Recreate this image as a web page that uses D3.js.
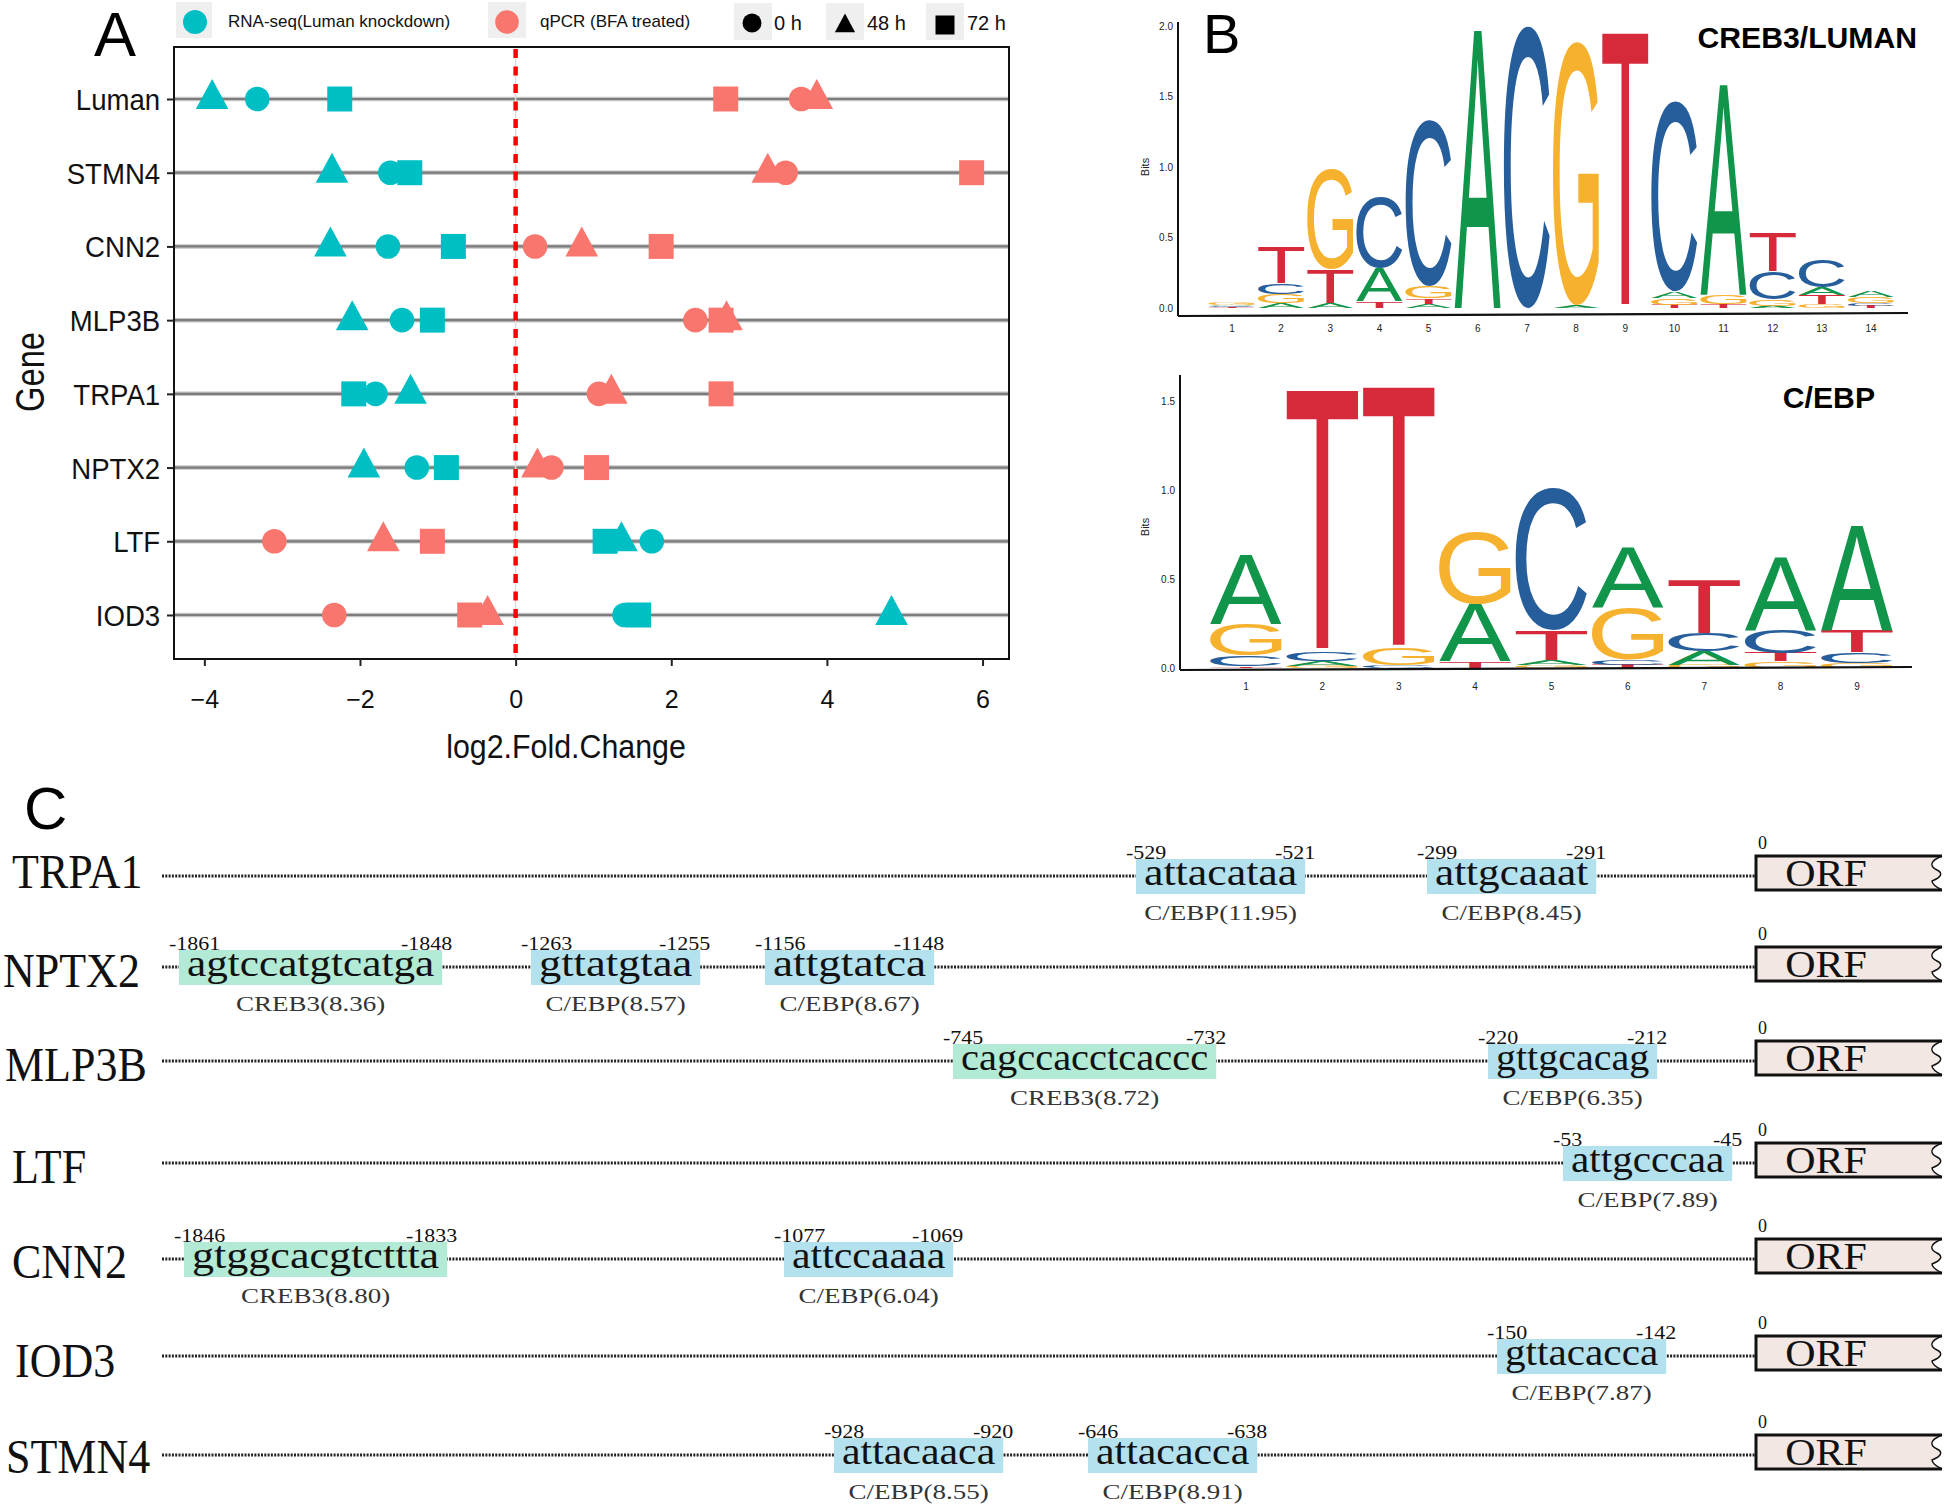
<!DOCTYPE html>
<html><head><meta charset="utf-8">
<script src="https://cdn.jsdelivr.net/npm/d3@7"></script>
<style>body{margin:0;background:#fff}svg{display:block}</style>
</head><body>
<svg id="fig" width="1946" height="1510"></svg>
<script>
// ================= DATA =================
// Panel A: log2 fold change per gene
const genes = ["Luman","STMN4","CNN2","MLP3B","TRPA1","NPTX2","LTF","IOD3"];
const rnaseq0h  = [-3.32,-1.61,-1.64,-1.46,-1.80,-1.27, 1.75, 1.40];
const rnaseq48h = [-3.90,-2.36,-2.38,-2.10,-1.35,-1.95, 1.36, 4.83];
const rnaseq72h = [-2.26,-1.36,-0.80,-1.07,-2.08,-0.89, 1.15, 1.58];
const qpcr0h    = [ 3.67, 3.47, 0.25, 2.31, 1.07, 0.46,-3.10,-2.33];
const qpcr48h   = [ 3.87, 3.24, 0.85, 2.71, 1.23, 0.28,-1.70,-0.36];
const qpcr72h   = [ 2.70, 5.86, 1.87, 2.64, 2.64, 1.04,-1.07,-0.59];
const xTicks = [-4,-2,0,2,4,6];
const legendSources = ["RNA-seq(Luman knockdown)","qPCR (BFA treated)"];
const legendTimes = ["0 h","48 h","72 h"];

// Panel B: sequence logos (letter, bits) bottom -> top
const creb3Logo = [
 [["T",0.004],["C",0.008],["A",0.012],["G",0.016]],
 [["A",0.035],["G",0.066],["C",0.07],["T",0.26]],
 [["A",0.035],["T",0.24],["G",0.71]],
 [["T",0.047],["A",0.236],["C",0.50]],
 [["A",0.03],["T",0.04],["G",0.083],["C",1.18]],
 [["A",1.97]],
 [["C",2.0]],
 [["A",0.02],["G",1.87]],
 [["T",1.95]],
 [["T",0.024],["G",0.047],["A",0.047],["C",1.35]],
 [["T",0.03],["G",0.064],["A",1.49]],
 [["A",0.017],["G",0.043],["C",0.2],["T",0.28]],
 [["G",0.03],["T",0.064],["A",0.054],["C",0.2]],
 [["T",0.017],["C",0.02],["G",0.043],["A",0.04]]
];
const cebpLogo = [
 [["T",0.01],["C",0.06],["G",0.18],["A",0.39]],
 [["G",0.013],["A",0.028],["C",0.05],["T",1.47]],
 [["C",0.015],["G",0.094],["T",1.47]],
 [["T",0.037],["A",0.32],["G",0.41]],
 [["G",0.015],["A",0.03],["T",0.17],["C",0.80]],
 [["T",0.019],["C",0.028],["G",0.29],["A",0.34]],
 [["G",0.019],["A",0.075],["C",0.10],["T",0.30]],
 [["G",0.037],["T",0.047],["C",0.13],["A",0.41]],
 [["G",0.03],["C",0.056],["T",0.12],["A",0.59]]
];
const creb3Ticks = [0,0.5,1,1.5,2];
const cebpTicks = [0,0.5,1,1.5];

// Panel C: promoter motifs
const promoterGenes = ["TRPA1","NPTX2","MLP3B","LTF","CNN2","IOD3","STMN4"];
const motifGene   = ["TRPA1","TRPA1","NPTX2","NPTX2","NPTX2","MLP3B","MLP3B","LTF","CNN2","CNN2","IOD3","STMN4","STMN4"];
const motifStart  = [-529,-299,-1861,-1263,-1156,-745,-220,-53,-1846,-1077,-150,-928,-646];
const motifEnd    = [-521,-291,-1848,-1255,-1148,-732,-212,-45,-1833,-1069,-142,-920,-638];
const motifSeq    = ["attacataa","attgcaaat","agtccatgtcatga","gttatgtaa","attgtatca","cagccacctcaccc","gttgcacag","attgcccaa","gtggcacgtcttta","attccaaaa","gttacacca","attacaaca","attacacca"];
const motifFactor = ["C/EBP","C/EBP","CREB3","C/EBP","C/EBP","CREB3","C/EBP","C/EBP","CREB3","C/EBP","C/EBP","C/EBP","C/EBP"];
const motifScore  = ["11.95","8.45","8.36","8.57","8.67","8.72","6.35","7.89","8.80","6.04","7.87","8.55","8.91"];

// ================= DRAWING =================
const svg = d3.select("#fig");
const sans = "'Liberation Sans', Arial, Helvetica, sans-serif";
const serif = "'Liberation Serif', 'Times New Roman', serif";
const cyan = "#00BFC4", pink = "#F8766D";

function stext(g, str, x, y, o) {
  return g.append("text")
    .attr("transform", `translate(${x},${y})` + (o.rot ? ` rotate(${o.rot})` : "") + ` scale(${o.sx||1},${o.sy||1})`)
    .attr("font-family", o.family || sans)
    .attr("font-size", o.size)
    .attr("font-weight", o.weight || "normal")
    .attr("text-anchor", o.anchor || "start")
    .attr("fill", o.fill || "#000")
    .text(str);
}

// ---------- Panel A ----------
const A = svg.append("g");
const xA = d3.scaleLinear().domain([-4.39, 6.34]).range([174, 1009]);
const yA = d3.scalePoint().domain(genes).range([99, 615]);
const plotTop = 47, plotBottom = 659;

genes.forEach(gname => {
  A.append("line").attr("x1",174).attr("x2",1009).attr("y1",yA(gname)).attr("y2",yA(gname))
    .attr("stroke","#c4c4c4").attr("stroke-width",4.5);
  A.append("line").attr("x1",174).attr("x2",1009).attr("y1",yA(gname)).attr("y2",yA(gname))
    .attr("stroke","#7c7c7c").attr("stroke-width",2.2);
});
A.append("line").attr("x1",xA(0)).attr("x2",xA(0)).attr("y1",plotTop).attr("y2",plotBottom)
  .attr("stroke","#dcdcdc").attr("stroke-width",1.5);

const triPath = s => `M0,${-20*s}L${16.3*s},${10*s}L${-16.3*s},${10*s}Z`;
const circPath = r => d3.symbol(d3.symbolCircle, Math.PI*r*r)();
const sqPath = a => d3.symbol(d3.symbolSquare, a*a)();
const shapes = {circle: circPath(12.3), triangle: triPath(1), square: sqPath(25)};
const layers = [
  [rnaseq72h, cyan, "square"], [rnaseq48h, cyan, "triangle"], [rnaseq0h, cyan, "circle"],
  [qpcr72h, pink, "square"], [qpcr48h, pink, "triangle"], [qpcr0h, pink, "circle"]
];
layers.forEach(([vals, col, sh]) => {
  A.append("g").selectAll("path").data(vals).join("path")
    .attr("d", shapes[sh])
    .attr("transform", (d,i) => `translate(${xA(d)},${yA(genes[i])})`)
    .attr("fill", col);
});

A.append("line").attr("x1",xA(0)).attr("x2",xA(0)).attr("y1",plotTop+2).attr("y2",plotBottom)
  .attr("stroke","#ff0000").attr("stroke-width",4.5).attr("stroke-dasharray","9,8.5");

A.append("rect").attr("x",174).attr("y",plotTop).attr("width",1009-174).attr("height",plotBottom-plotTop)
  .attr("fill","none").attr("stroke","#111").attr("stroke-width",2);

const xAxis = A.append("g").attr("transform",`translate(0,${plotBottom})`)
  .call(d3.axisBottom(xA).tickValues(xTicks).tickSize(7).tickPadding(24));
xAxis.select(".domain").remove();
xAxis.selectAll("line").attr("stroke","#222").attr("stroke-width",2);
xAxis.selectAll("text").attr("font-size",25).attr("font-family",sans).attr("fill","#111");

const yAxis = A.append("g").attr("transform","translate(174,0)")
  .call(d3.axisLeft(yA).tickSize(7).tickPadding(8));
yAxis.select(".domain").remove();
yAxis.selectAll("line").attr("stroke","#222").attr("stroke-width",2);
yAxis.selectAll("text").attr("font-size",30).attr("font-family",sans).attr("fill","#111")
  .attr("dy","0.35em").attr("transform","scale(0.92,1)");

stext(A, "log2.Fold.Change", 566, 758, {size:33, sx:0.92, anchor:"middle", fill:"#111"});
stext(A, "Gene", 44, 372, {size:40, rot:-90, sx:0.82, anchor:"middle", fill:"#111"});
stext(A, "A", 94, 56, {size:63});

const keyBoxes = [[176,2,36,36],[488,2,38,36],[734,3,38,37],[826,3,38,37],[926,3,38,37]];
keyBoxes.forEach(([x,y,w,h]) => A.append("rect").attr("x",x).attr("y",y).attr("width",w).attr("height",h).attr("fill","#efefef"));
A.append("path").attr("d",circPath(12)).attr("transform","translate(195,22)").attr("fill",cyan);
A.append("path").attr("d",circPath(11.8)).attr("transform","translate(507,22)").attr("fill",pink);
stext(A, legendSources[0], 228, 27, {size:17, fill:"#111"});
stext(A, legendSources[1], 540, 27, {size:17, fill:"#111"});
A.append("path").attr("d",circPath(9.5)).attr("transform","translate(752,23)").attr("fill","#000");
A.append("path").attr("d",triPath(0.62)).attr("transform","translate(845,26)").attr("fill","#000");
A.append("path").attr("d",sqPath(19)).attr("transform","translate(945,25)").attr("fill","#000");
stext(A, legendTimes[0], 774, 30, {size:20, fill:"#111"});
stext(A, legendTimes[1], 867, 30, {size:20, fill:"#111"});
stext(A, legendTimes[2], 967, 30, {size:20, fill:"#111"});

// ---------- Panel B ----------
const B = svg.append("g");
const logoColors = {A:"#10954a", C:"#265d9b", G:"#f6b12e", T:"#d62a3b"};
const ctx = document.createElement("canvas").getContext("2d");
ctx.font = "100px 'Liberation Sans'";
const gm = {};
"ACGT".split("").forEach(L => {
  const m = ctx.measureText(L);
  gm[L] = {l:m.actualBoundingBoxLeft, r:m.actualBoundingBoxRight, a:m.actualBoundingBoxAscent, d:m.actualBoundingBoxDescent};
});

function drawLogo(data, xs, ys) {
  const g = B.append("g");
  data.forEach((stack, i) => {
    let cum = 0;
    const x0 = xs(i+1), w = xs.bandwidth();
    stack.forEach(([L, h]) => {
      const yb = ys(cum), yt = ys(cum + h);
      cum += h;
      const m = gm[L];
      const gw = m.l + m.r, gh = m.a + m.d;
      g.append("text")
        .attr("transform", `translate(${x0},${yt}) scale(${w/gw},${(yb-yt)/gh}) translate(${m.l},${m.a})`)
        .attr("font-family","'Liberation Sans'").attr("font-size",100)
        .attr("fill", logoColors[L]).text(L);
    });
  });
}

const xB1 = d3.scaleBand().domain(d3.range(1,15)).range([1207.4,1895.6]).paddingInner(0.06).paddingOuter(0.03);
const yB1 = d3.scaleLinear().domain([0,2]).range([308,26]);
drawLogo(creb3Logo, xB1, yB1);
B.append("line").attr("x1",1178).attr("x2",1178).attr("y1",22).attr("y2",316).attr("stroke","#111").attr("stroke-width",2);
B.append("line").attr("x1",1178).attr("x2",1908).attr("y1",316).attr("y2",313).attr("stroke","#111").attr("stroke-width",2.2);
creb3Ticks.forEach(t => stext(B, d3.format(".1f")(t), 1173, yB1(t)+3.5, {size:10, anchor:"end", fill:"#222"}));
d3.range(1,15).forEach(p => stext(B, String(p), xB1(p)+xB1.bandwidth()/2, 332, {size:10, anchor:"middle", fill:"#222"}));
stext(B, "Bits", 1149, 167, {size:11, rot:-90, anchor:"middle", fill:"#222"});
stext(B, "CREB3/LUMAN", 1917, 48, {size:29, weight:"bold", anchor:"end", sx:1.04});
stext(B, "B", 1203, 53, {size:56});

const xB2 = d3.scaleBand().domain(d3.range(1,10)).range([1207.8,1895.2]).paddingInner(0.06).paddingOuter(0.03);
const yB2 = d3.scaleLinear().domain([0,1.5]).range([668,401]);
drawLogo(cebpLogo, xB2, yB2);
B.append("line").attr("x1",1180).attr("x2",1180).attr("y1",375).attr("y2",670).attr("stroke","#111").attr("stroke-width",2);
B.append("line").attr("x1",1180).attr("x2",1912).attr("y1",670).attr("y2",667).attr("stroke","#111").attr("stroke-width",2.2);
cebpTicks.forEach(t => stext(B, d3.format(".1f")(t), 1175, yB2(t)+3.5, {size:10, anchor:"end", fill:"#222"}));
d3.range(1,10).forEach(p => stext(B, String(p), xB2(p)+xB2.bandwidth()/2, 690, {size:10, anchor:"middle", fill:"#222"}));
stext(B, "Bits", 1149, 527, {size:11, rot:-90, anchor:"middle", fill:"#222"});
stext(B, "C/EBP", 1875, 408, {size:29, weight:"bold", anchor:"end", sx:1.04});

// ---------- Panel C ----------
const C = svg.append("g");
stext(C, "C", 24, 829, {size:60});
const rowY = [876, 967, 1061, 1163, 1259, 1356, 1455];
const labelX = [12, 3, 5, 12, 12, 15, 6];
const labelDy = [12, 20, 20, 20, 19, 21, 18];
const yC = d3.scaleOrdinal().domain(promoterGenes).range(rowY);
const stopsBp = Array.from(new Set(motifStart.concat([0]))).sort((a,b)=>a-b);
const stopsPx = [179,184,531,765,784,834,953,1088,1136,1427,1488,1497,1563,1756];
const xC = d3.scaleLinear().domain(stopsBp).range(stopsPx);
const lineStart = 162, orfX = xC(0), orfR = 1942;

promoterGenes.forEach((gname, i) => {
  const y = yC(gname);
  stext(C, gname, labelX[i], y + labelDy[i], {size:44, family:serif, sy:1.1, fill:"#111"});
  C.append("line").attr("x1",lineStart).attr("x2",orfX).attr("y1",y).attr("y2",y)
    .attr("stroke","#222").attr("stroke-width",2.8).attr("stroke-dasharray","2,1.3");
  const t = y - 20, b = y + 14;
  const wave = `C${orfR-12},${t+5} ${orfR-13},${t+10} ${orfR-5},${t+14}C${orfR+1},${t+17} ${orfR},${t+21} ${orfR-10},${t+25}C${orfR-10},${t+28} ${orfR-4},${b-2} ${orfR},${b}`;
  C.append("path").attr("d", `M${orfX},${t}L${orfR},${t}${wave}L${orfX},${b}Z`)
    .attr("fill","#f3e7e3").attr("stroke","none");
  C.append("path").attr("d", `M${orfR},${t}L${orfX},${t}L${orfX},${b}L${orfR},${b}`)
    .attr("fill","none").attr("stroke","#111").attr("stroke-width",3);
  C.append("path").attr("d", `M${orfR},${t}${wave}`)
    .attr("fill","none").attr("stroke","#111").attr("stroke-width",1.4);
  stext(C, "ORF", orfX + 70, y + 10, {size:42, family:serif, sy:0.9, anchor:"middle", fill:"#111"});
  stext(C, "0", orfX + 2, y - 27, {size:18, family:serif, fill:"#111"});
});

motifSeq.forEach((seq, i) => {
  const y = yC(motifGene[i]);
  const x0 = xC(motifStart[i]);
  const g = C.append("g");
  const w = 18.8 * seq.length;
  g.append("rect").attr("x", x0).attr("y", y - 17).attr("width", w).attr("height", 35)
    .attr("fill", motifFactor[i] === "CREB3" ? "#b2ead5" : "#b4e1ee");
  stext(g, seq, x0 + 8, y + 9, {size:44, family:serif, sy:0.86, fill:"#111"})
    .attr("textLength", w - 16).attr("lengthAdjust", "spacingAndGlyphs");
  stext(g, String(motifStart[i]), x0 - 10, y - 17, {size:22, family:serif, sy:0.9, fill:"#111"});
  stext(g, String(motifEnd[i]), x0 + w + 10, y - 17, {size:22, family:serif, sy:0.9, anchor:"end", fill:"#111"});
  stext(g, `${motifFactor[i]}(${motifScore[i]})`, x0 + w/2, y + 44, {size:27, family:serif, sy:0.8, anchor:"middle", fill:"#333"});
});
</script>
</body></html>
